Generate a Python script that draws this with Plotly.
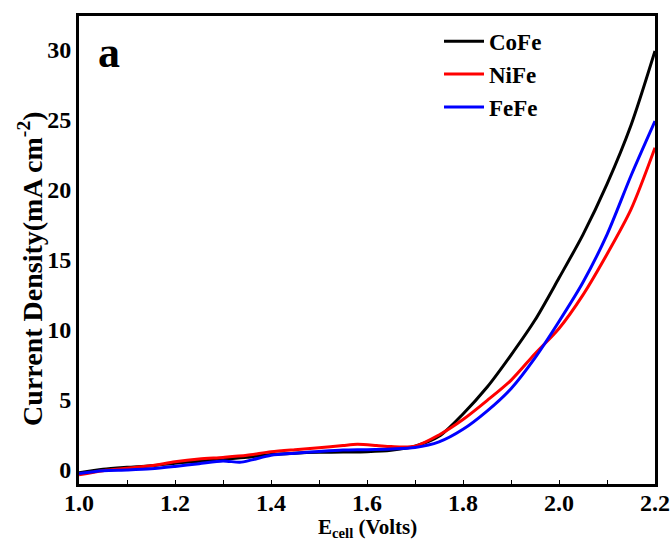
import plotly.graph_objects as go

# Data
cofe_x = [1.0, 1.05, 1.1, 1.15, 1.2, 1.25, 1.3, 1.35, 1.4, 1.45, 1.5, 1.55, 1.6, 1.65, 1.7,
          1.75, 1.8, 1.85, 1.9, 1.95, 2.0, 2.05, 2.1, 2.15, 2.2]
cofe_y = [-0.2, 0.05, 0.19, 0.3, 0.48, 0.62, 0.76, 0.9, 1.1, 1.2, 1.26, 1.28, 1.3, 1.4, 1.7,
          2.4, 4.0, 5.9, 8.2, 10.7, 13.7, 16.8, 20.4, 24.6, 29.9]

nife_x = [1.0, 1.05, 1.1, 1.15, 1.2, 1.25, 1.3, 1.35, 1.4, 1.45, 1.5, 1.55, 1.58, 1.62, 1.65, 1.7,
          1.75, 1.8, 1.85, 1.9, 1.95, 2.0, 2.05, 2.1, 2.15, 2.2]
nife_y = [-0.35, -0.05, 0.12, 0.3, 0.58, 0.78, 0.9, 1.05, 1.3, 1.45, 1.58, 1.75, 1.83, 1.75, 1.67, 1.7,
          2.5, 3.6, 4.95, 6.4, 8.3, 10.1, 12.5, 15.4, 18.6, 23.0]

fefe_x = [1.0, 1.05, 1.1, 1.15, 1.2, 1.25, 1.3, 1.335, 1.36, 1.4, 1.45, 1.5, 1.55, 1.6, 1.65, 1.7,
          1.75, 1.8, 1.85, 1.9, 1.95, 2.0, 2.05, 2.1, 2.15, 2.2]
fefe_y = [-0.25, -0.05, 0.0, 0.08, 0.25, 0.45, 0.65, 0.55, 0.72, 1.05, 1.2, 1.32, 1.42, 1.45, 1.5, 1.6,
          2.0, 2.9, 4.2, 5.8, 8.0, 10.6, 13.4, 16.8, 21.0, 24.9]

series = [("CoFe", cofe_x, cofe_y, "#000000"),
          ("NiFe", nife_x, nife_y, "#ff0000"),
          ("FeFe", fefe_x, fefe_y, "#0000ff")]

x_ticks = [1.0, 1.2, 1.4, 1.6, 1.8, 2.0, 2.2]
x_tick_labels = ["1.0", "1.2", "1.4", "1.6", "1.8", "2.0", "2.2"]
y_ticks = [0, 5, 10, 15, 20, 25, 30]

x_title = "E<sub>cell</sub> (Volts)"
y_title = "Current Density(mA cm<sup>-2</sup>)"

FONT = "Liberation Serif"

fig = go.Figure()
for name, xs, ys, col in series:
    fig.add_trace(go.Scatter(x=xs, y=ys, name=name, mode="lines",
                             line=dict(color=col, width=3, shape="spline", smoothing=0.8)))

fig.update_layout(
    width=672, height=541,
    margin=dict(l=79, r=17, t=16, b=57, autoexpand=False),
    plot_bgcolor="white", paper_bgcolor="white",
    font=dict(family=FONT, size=24, color="black", weight="bold"),
    showlegend=True,
    legend=dict(x=0.625, y=0.992, xanchor="left", yanchor="top",
                bgcolor="rgba(0,0,0,0)", font=dict(family=FONT, size=23, weight="bold"),
                tracegroupgap=0, itemwidth=40),
    xaxis=dict(range=[1.0, 2.2], tickvals=x_ticks, ticktext=x_tick_labels, automargin=False,
               showgrid=False, zeroline=False, showline=True, linecolor="black", linewidth=3,
               mirror=True, ticks="inside", ticklen=4, tickwidth=1, tickcolor="black",
               ticklabelstandoff=-5,
               minor=dict(dtick=0.1, ticks="inside", ticklen=4, tickcolor="black"),
               tickfont=dict(family=FONT, size=24, weight="bold")),
    yaxis=dict(range=[-1.0, 32.4], tickvals=y_ticks, automargin=False,
               showgrid=False, zeroline=False, showline=True, linecolor="black", linewidth=3,
               mirror=True, ticks="", ticklabelstandoff=0,
               tickfont=dict(family=FONT, size=24, weight="bold")),
    annotations=[
        dict(text="a", x=0.03, y=0.922, xref="paper", yref="paper",
             xanchor="left", yanchor="middle", showarrow=False,
             font=dict(family=FONT, size=44, weight="bold", color="black")),
        dict(text=x_title, x=0.5, y=-0.093, xref="paper", yref="paper",
             xanchor="center", yanchor="middle", showarrow=False,
             font=dict(family=FONT, size=21, weight="bold", color="black")),
        dict(text=y_title, x=-0.083, y=0.46, xref="paper", yref="paper", textangle=-90,
             xanchor="center", yanchor="middle", showarrow=False,
             font=dict(family=FONT, size=28, weight="bold", color="black")),
    ],
)

fig.write_html("out.html")
